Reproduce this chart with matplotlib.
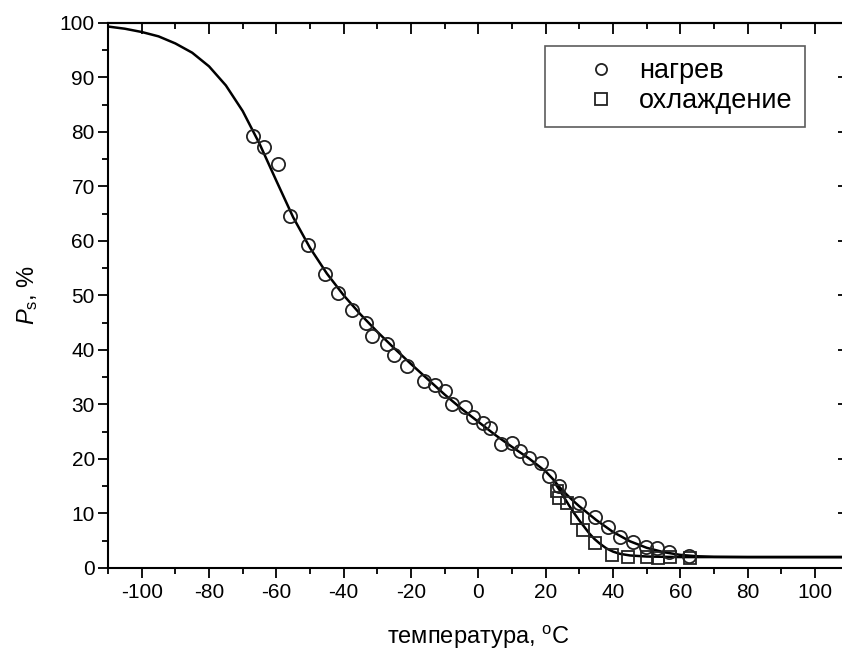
import matplotlib
matplotlib.use("Agg")
import matplotlib.pyplot as plt
from matplotlib.ticker import MultipleLocator

# heating (circles)
heat_t = [-67.0, -63.7, -59.6, -56.0, -50.7, -45.6, -41.8, -37.6, -33.4, -31.6,
          -27.0, -25.0, -21.2, -16.3, -12.9, -10.0, -7.9, -4.0, -1.6, 1.3,
          3.4, 6.8, 9.9, 12.3, 15.0, 18.5, 21.0, 24.0, 29.9, 34.6,
          38.5, 42.1, 45.9, 49.8, 53.1, 56.6, 62.6]
heat_p = [79.2, 77.2, 74.0, 64.5, 59.3, 54.0, 50.4, 47.3, 45.0, 42.5,
          41.0, 39.0, 37.0, 34.3, 33.5, 32.4, 30.0, 29.6, 27.6, 26.6,
          25.6, 22.8, 23.0, 21.4, 20.2, 19.2, 16.9, 15.0, 11.9, 9.4,
          7.5, 5.7, 4.8, 3.9, 3.7, 2.9, 2.2]

# cooling (squares)
cool_t = [23.3, 23.8, 26.3, 29.3, 31.1, 34.6, 39.7, 44.4, 50.1, 53.3, 56.9, 62.9]
cool_p = [14.1, 12.8, 11.9, 9.2, 7.0, 4.6, 2.4, 2.0, 2.0, 1.8, 2.0, 1.8]

# fitted curves
fit_heat_t = [-110, -105, -100, -95, -90, -85, -80, -75, -70, -65, -60, -55, -50,
              -45, -40, -35, -30, -25, -20, -15, -10, -5, 0, 5, 10, 15, 20,
              22, 24, 26, 28, 30, 35, 40, 45, 50, 55, 60, 65, 70, 80, 90, 100, 110]
fit_heat_p = [99.3, 98.9, 98.3, 97.5, 96.2, 94.5, 92.0, 88.5, 83.8, 77.8, 71.0, 64.3, 58.7,
              54.0, 50.0, 46.5, 43.3, 40.3, 37.4, 34.6, 31.8, 29.2, 26.8, 24.4, 22.2, 20.1, 17.7,
              16.4, 14.9, 13.6, 12.4, 11.3, 8.8, 6.6, 4.9, 3.7, 2.9, 2.4, 2.15, 2.05, 2.0, 2.0, 2.0, 2.0]

fit_cool_t = [23.0, 24.0, 25.5, 27.0, 28.5, 30.0, 31.5, 33.0, 34.5, 36.0, 38.0, 40.0,
              42.0, 45.0, 50.0, 55.0, 60.0, 70.0, 80.0, 90.0, 100.0, 110.0]
fit_cool_p = [15.3, 14.4, 12.9, 11.4, 10.0, 8.7, 7.5, 6.3, 5.3, 4.5, 3.6, 3.0,
              2.6, 2.3, 2.1, 2.05, 2.0, 2.0, 2.0, 2.0, 2.0, 2.0]

plt.rcParams["font.family"] = ["Liberation Sans", "DejaVu Sans"]
plt.rcParams["mathtext.fontset"] = "custom"
plt.rcParams["mathtext.rm"] = "Liberation Sans"
plt.rcParams["mathtext.it"] = "Liberation Sans:italic"
plt.rcParams["axes.unicode_minus"] = False

fig = plt.figure(figsize=(8.42, 6.53), dpi=100)
ax = fig.add_axes([0.1283, 0.1302, 0.8797, 0.835])

ax.plot(fit_heat_t, fit_heat_p, color="black", lw=1.8, zorder=3)
ax.plot(fit_cool_t, fit_cool_p, color="black", lw=1.8, zorder=3)
ax.plot(heat_t, heat_p, ls="none", marker="o", ms=9.5, mfc="none",
        mec="#222222", mew=1.3, label="нагрев", zorder=4)
ax.plot(cool_t, cool_p, ls="none", marker="s", ms=8.5, mfc="none",
        mec="#222222", mew=1.3, label="охлаждение", zorder=4)

ax.set_xlim(-110, 110)
ax.set_ylim(0, 100)
ax.xaxis.set_major_locator(MultipleLocator(20))
ax.xaxis.set_minor_locator(MultipleLocator(10))
ax.yaxis.set_major_locator(MultipleLocator(10))
ax.yaxis.set_minor_locator(MultipleLocator(5))
ax.set_xticks([-100, -80, -60, -40, -20, 0, 20, 40, 60, 80, 100])

ax.tick_params(which="both", direction="out", bottom=True, left=True,
               top=False, right=False, width=1.3, labelsize=15, colors="black")
ax.tick_params(which="major", length=7.5)
ax.tick_params(axis="x", which="major", pad=3)
ax.tick_params(axis="y", which="major", pad=2)
ax.tick_params(which="minor", length=4)

# mirrored inward ticks on top and right
sec_x = ax.secondary_xaxis("top")
sec_x.xaxis.set_major_locator(MultipleLocator(20))
sec_x.xaxis.set_minor_locator(MultipleLocator(10))
sec_x.tick_params(which="both", direction="in", width=1.3, labeltop=False)
sec_x.tick_params(which="major", length=8)
sec_x.tick_params(which="minor", length=4)
sec_y = ax.secondary_yaxis("right")
sec_y.yaxis.set_major_locator(MultipleLocator(10))
sec_y.yaxis.set_minor_locator(MultipleLocator(5))
sec_y.tick_params(which="both", direction="in", width=1.3, labelright=False)
sec_y.tick_params(which="major", length=8)
sec_y.tick_params(which="minor", length=4)

for sp in list(ax.spines.values()):
    sp.set_linewidth(1.5)
for s in (sec_x, sec_y):
    for sp in s.spines.values():
        sp.set_linewidth(1.5)

ax.set_xlabel(r"температура, $^{\mathrm{o}}$C", fontsize=17, labelpad=16)
ax.set_ylabel(r"$\mathit{P}_{\mathrm{s}}$, %", fontsize=17, labelpad=14)

leg = ax.legend(loc="upper left", bbox_to_anchor=(0.59, 0.957), fontsize=19.5,
                frameon=True, fancybox=False, edgecolor="#333333",
                handletextpad=-0.18, borderpad=0.45, handlelength=3.2,
                labelspacing=0.15, borderaxespad=0)
leg.get_frame().set_linewidth(1.2)
for h in leg.legend_handles:
    h.set_markersize(8)

fig.savefig("out.png", dpi=100)
